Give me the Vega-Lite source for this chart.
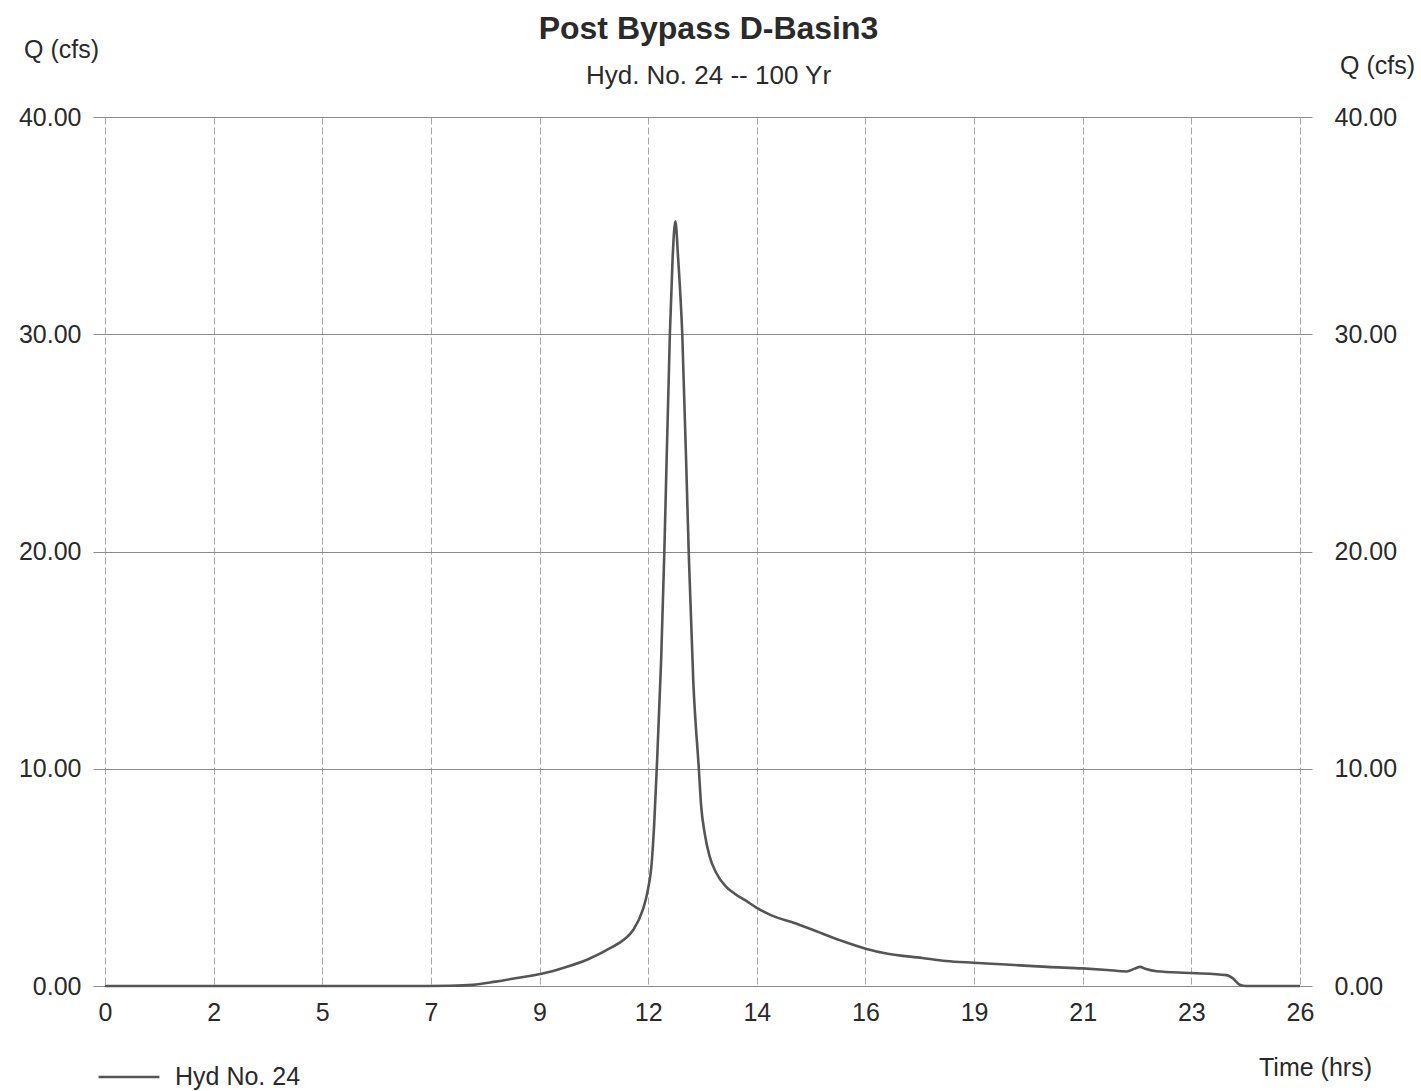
{
  "$schema": "https://vega.github.io/schema/vega-lite/v6.json",
  "width": 1195,
  "height": 869,
  "autosize": {"type": "none"},
  "padding": {"left": 105, "top": 117, "right": 121, "bottom": 105},
  "background": "white",
  "title": {
    "text": "Post Bypass D-Basin3",
    "subtitle": "Hyd. No. 24 -- 100 Yr",
    "font": "Liberation Sans",
    "subtitleFont": "Liberation Sans",
    "fontSize": 32,
    "fontWeight": "bold",
    "subtitleFontSize": 26,
    "color": "#2a2a2a",
    "subtitleColor": "#2a2a2a",
    "anchor": "middle",
    "frame": "group",
    "offset": -53,
    "subtitlePadding": 17,
    "dx": 6
  },
  "config": {
    "view": {"stroke": null},
    "font": "Liberation Sans"
  },
  "data": {
    "values": [
      {"t": 0, "q": 0.0}, {"t": 1, "q": 0.0}, {"t": 2, "q": 0.0}, {"t": 3, "q": 0.0},
      {"t": 4, "q": 0.0}, {"t": 5, "q": 0.0}, {"t": 6, "q": 0.0}, {"t": 7, "q": 0.0},
      {"t": 7.5, "q": 0.01}, {"t": 8.0, "q": 0.05}, {"t": 8.5, "q": 0.2}, {"t": 9.0, "q": 0.38},
      {"t": 9.5, "q": 0.56}, {"t": 10.0, "q": 0.85}, {"t": 10.5, "q": 1.22}, {"t": 11.0, "q": 1.75},
      {"t": 11.3, "q": 2.15}, {"t": 11.5, "q": 2.6}, {"t": 11.7, "q": 3.5}, {"t": 11.8, "q": 4.3},
      {"t": 11.9, "q": 5.8}, {"t": 11.95, "q": 7.5}, {"t": 12.0, "q": 9.8}, {"t": 12.1, "q": 15.0},
      {"t": 12.17, "q": 20.0}, {"t": 12.29, "q": 30.0}, {"t": 12.35, "q": 33.5}, {"t": 12.41, "q": 35.2},
      {"t": 12.47, "q": 33.5}, {"t": 12.56, "q": 30.0}, {"t": 12.7, "q": 20.0}, {"t": 12.8, "q": 14.0},
      {"t": 12.92, "q": 10.0}, {"t": 12.97, "q": 8.3}, {"t": 13.05, "q": 7.0}, {"t": 13.15, "q": 6.0},
      {"t": 13.3, "q": 5.2}, {"t": 13.5, "q": 4.6}, {"t": 13.7, "q": 4.25}, {"t": 14.0, "q": 3.85},
      {"t": 14.18, "q": 3.6}, {"t": 14.5, "q": 3.25}, {"t": 15.0, "q": 2.9}, {"t": 15.38, "q": 2.6},
      {"t": 16.0, "q": 2.1}, {"t": 16.55, "q": 1.72}, {"t": 17.0, "q": 1.5}, {"t": 17.78, "q": 1.29},
      {"t": 18.3, "q": 1.15}, {"t": 18.9, "q": 1.07}, {"t": 19.5, "q": 1.0}, {"t": 20.0, "q": 0.94},
      {"t": 20.5, "q": 0.88}, {"t": 21.27, "q": 0.81}, {"t": 21.8, "q": 0.74}, {"t": 22.23, "q": 0.67},
      {"t": 22.4, "q": 0.8}, {"t": 22.52, "q": 0.88}, {"t": 22.65, "q": 0.78}, {"t": 22.88, "q": 0.68},
      {"t": 23.64, "q": 0.6}, {"t": 24.4, "q": 0.5}, {"t": 24.54, "q": 0.35}, {"t": 24.69, "q": 0.06},
      {"t": 24.83, "q": 0.0}, {"t": 25.5, "q": 0.0}, {"t": 26.0, "q": 0.0}
    ]
  },
  "layer": [
    {
      "mark": {"type": "line", "strokeWidth": 2.6, "interpolate": "monotone"},
      "encoding": {
        "x": {
          "field": "t",
          "type": "quantitative",
          "scale": {"domain": [0, 26], "nice": false, "zero": false},
          "axis": {
            "values": [0, 2.363636, 4.727273, 7.090909, 9.454545, 11.818182, 14.181818, 16.545455, 18.909091, 21.272727, 23.636364, 26],
            "labelExpr": "['0','2','5','7','9','12','14','16','19','21','23','26'][round(datum.value*11/26)]",
            "labelFontSize": 25,
            "labelColor": "#2a2a2a",
            "labelPadding": 14,
            "labelFlush": false,
            "ticks": false,
            "domain": false,
            "grid": true,
            "gridColor": "#a8a8a8",
            "gridWidth": 1,
            "gridDash": [7, 3],
            "title": "Time (hrs)",
            "titleFontSize": 25,
            "titleFontWeight": "normal",
            "titleColor": "#2a2a2a",
            "titleX": 1210,
            "titleY": 89,
            "titleAlign": "center",
            "titleBaseline": "alphabetic"
          }
        },
        "y": {
          "field": "q",
          "type": "quantitative",
          "scale": {"domain": [0, 40], "nice": false},
          "axis": {
            "values": [0, 10, 20, 30, 40],
            "format": ".2f",
            "labelFontSize": 25,
            "labelColor": "#2a2a2a",
            "labelPadding": 12,
            "ticks": true,
            "tickSize": 12,
            "tickColor": "#8a8a8a",
            "domain": false,
            "grid": true,
            "gridColor": "#8a8a8a",
            "gridWidth": 1,
            "title": "Q (cfs)",
            "titleAngle": 0,
            "titleFontSize": 25,
            "titleFontWeight": "normal",
            "titleColor": "#2a2a2a",
            "titleX": -44,
            "titleY": -60,
            "titleAlign": "center",
            "titleBaseline": "alphabetic"
          }
        },
        "color": {
          "datum": "Hyd No. 24",
          "type": "nominal",
          "scale": {"range": ["#555555"]},
          "legend": {
            "title": null,
            "orient": "none",
            "legendX": -8,
            "legendY": 928,
            "padding": 0,
            "symbolType": "stroke",
            "symbolSize": 3700,
            "symbolStrokeWidth": 2.6,
            "labelFontSize": 25,
            "labelColor": "#2a2a2a",
            "labelOffset": 14
          }
        }
      }
    },
    {
      "mark": {"type": "line", "opacity": 0},
      "encoding": {
        "x": {"field": "t", "type": "quantitative"},
        "y": {
          "field": "q",
          "type": "quantitative",
          "axis": {
            "orient": "right",
            "values": [0, 10, 20, 30, 40],
            "format": ".2f",
            "labelFontSize": 25,
            "labelColor": "#2a2a2a",
            "labelPadding": 22,
            "ticks": true,
            "tickSize": 12,
            "tickColor": "#8a8a8a",
            "domain": false,
            "grid": false,
            "title": "Q (cfs)",
            "titleAngle": 0,
            "titleFontSize": 25,
            "titleFontWeight": "normal",
            "titleColor": "#2a2a2a",
            "titleX": 77,
            "titleY": -44,
            "titleAlign": "center",
            "titleBaseline": "alphabetic"
          }
        }
      }
    }
  ],
  "resolve": {"scale": {"y": "shared"}, "axis": {"y": "independent"}}
}
